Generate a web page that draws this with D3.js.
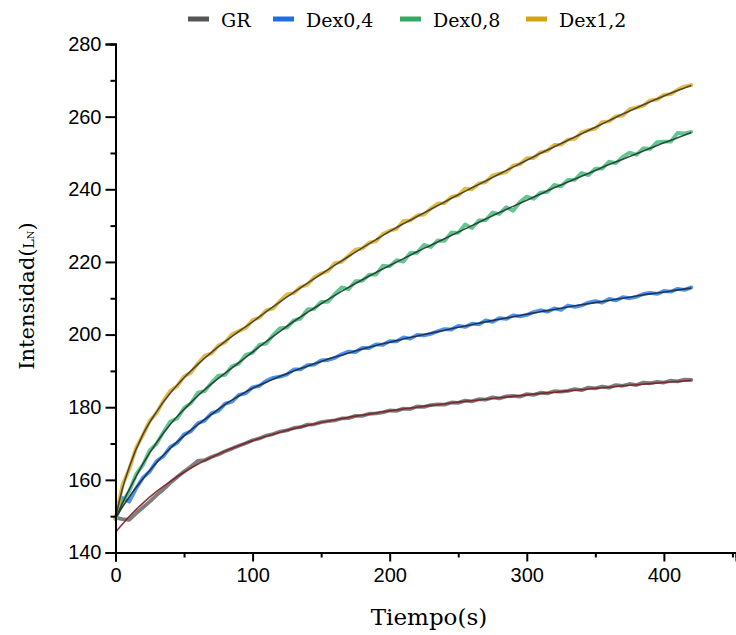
<!DOCTYPE html>
<html>
<head>
<meta charset="utf-8">
<script src="https://cdn.jsdelivr.net/npm/d3@7"></script>
<style>
  html, body { margin: 0; padding: 0; background: #ffffff; }
  svg { display: block; }
</style>
</head>
<body>
<svg id="chart" width="736" height="635"></svg>
<script>
// ---------- data ----------
const seriesNames = ["GR", "Dex0,4", "Dex0,8", "Dex1,2"];

const timeData = [0,5,10,15,20,25,30,35,40,45,50,55,60,65,70,75,80,85,90,95,100,
  105,110,115,120,125,130,135,140,145,150,155,160,165,170,175,180,185,190,195,200,
  205,210,215,220,225,230,235,240,245,250,255,260,265,270,275,280,285,290,295,300,
  305,310,315,320,325,330,335,340,345,350,355,360,365,370,375,380,385,390,395,400,
  405,410,415,420];

const grData = [149.6,149.2,149.0,150.8,152.4,154.0,155.8,157.4,159.2,160.8,162.3,163.7,165.2,165.4,166.3,167.0,167.9,168.6,169.4,170.1,170.9,
  171.4,172.2,172.6,173.3,173.6,174.3,174.5,175.2,175.3,175.9,176.2,176.4,176.9,177.0,177.6,177.6,178.2,178.3,178.6,179.1,
  179.0,179.6,179.5,180.2,180.1,180.6,180.8,180.7,181.3,181.2,181.8,181.6,182.2,182.1,182.7,182.4,183.0,183.1,182.9,183.6,
  183.4,184.0,183.8,184.4,184.3,184.5,185.0,184.7,185.4,185.2,185.7,185.4,186.1,185.9,186.4,186.1,186.8,186.6,187.0,186.8,
  187.3,187.1,187.6,187.5];

const dex04Data = [149.3,155.0,154.0,157.6,160.6,162.3,165.2,166.5,169.1,170.2,172.5,173.4,175.6,176.3,178.3,179.0,181.0,181.5,183.4,183.8,185.5,
  185.9,187.3,188.1,188.4,189.0,190.4,190.4,191.6,191.7,192.9,193.0,193.6,194.6,195.3,195.2,196.3,196.3,197.3,197.2,198.2,
  198.1,199.2,198.9,199.9,199.8,200.2,200.9,201.5,201.4,202.4,202.1,203.0,202.8,203.9,203.5,204.5,204.3,205.3,205.0,205.4,
  206.2,206.7,206.3,207.2,206.8,208.0,207.6,208.0,208.8,209.2,208.8,209.8,209.4,210.3,210.0,210.4,211.2,211.5,211.2,212.0,
  211.8,212.6,212.3,213.0];

const dex08Data = [149.3,153.9,156.8,161.5,164.1,168.2,169.9,173.2,176.1,176.9,179.8,181.1,184.0,184.4,186.7,188.7,188.9,191.3,192.0,194.4,195.0,
  197.2,197.5,199.9,201.8,201.9,203.9,204.4,206.9,207.1,209.0,209.0,211.2,213.0,212.5,214.7,214.8,216.5,216.5,219.0,218.8,
  220.5,220.1,222.5,222.5,224.7,224.1,225.9,225.8,228.1,228.0,230.3,229.3,231.4,231.5,233.6,233.2,235.1,234.1,236.5,238.0,
  237.4,239.1,239.3,241.2,240.8,242.6,242.6,244.5,243.9,245.7,245.7,247.6,247.2,248.9,250.1,249.5,251.3,251.1,253.0,253.1,
  253.1,255.5,255.4,255.8];

const dex12Data = [149.2,158.5,162.9,168.8,172.3,176.3,178.4,181.8,184.5,185.8,188.5,189.5,192.0,194.2,194.8,197.0,197.9,200.1,201.0,201.8,204.0,
  204.7,206.7,207.2,209.3,211.1,211.4,213.1,213.7,215.8,216.8,217.5,219.7,220.0,221.7,223.4,223.7,225.3,225.7,227.7,228.6,
  229.1,231.3,231.4,232.8,233.0,234.7,236.1,236.2,237.9,238.3,240.2,240.0,241.6,242.0,243.8,244.3,244.7,246.5,246.9,248.6,
  248.6,250.2,250.6,252.2,252.3,253.7,253.9,255.7,256.3,256.7,258.5,258.7,260.1,260.3,262.1,262.5,263.0,264.5,264.7,266.0,
  266.2,267.4,268.3,268.7];

// fitted curves
const timeFit = [0,5,10,20,30,40,50,60,70,80,90,100,110,120,130,140,150,160,170,180,190,200,
  210,220,230,240,250,260,270,280,290,300,310,320,330,340,350,360,370,380,390,400,410,420];

const grFit = [145.6,147.8,149.9,153.6,156.8,159.6,162.1,164.3,166.2,167.9,169.4,170.8,172.0,173.1,174.1,175.0,175.8,176.5,177.2,177.8,178.4,179.0,
  179.5,180.0,180.5,180.9,181.4,181.8,182.2,182.6,183.0,183.4,183.8,184.1,184.5,184.8,185.2,185.5,185.9,186.2,186.5,186.8,187.1,187.4];

const dex04Fit = [149.5,152.5,155.3,160.3,164.8,168.7,172.1,175.2,178.0,180.8,183.1,185.2,186.9,188.5,190.0,191.3,192.6,193.8,194.9,196.0,197.0,197.9,
  198.8,199.6,200.4,201.2,202.0,202.7,203.5,204.2,204.9,205.6,206.3,206.9,207.6,208.2,208.8,209.4,210.0,210.6,211.2,211.7,212.3,212.8];

const dex08Fit = [149.3,153.5,157.3,164.4,170.3,175.3,179.4,183.1,186.4,189.4,192.3,195.2,198.1,200.9,203.6,206.1,208.5,210.8,213.0,215.1,217.1,219.0,
  220.9,222.8,224.6,226.4,228.2,230.0,231.8,233.6,235.3,237.0,238.7,240.4,242.0,243.6,245.2,246.8,248.3,249.8,251.3,252.8,254.2,255.6];

const dex12Fit = [149.5,157.5,163.5,172.5,178.8,183.9,188.1,191.8,195.1,198.1,200.9,203.5,206.3,209.0,211.6,214.15,216.65,219.1,221.5,223.85,226.15,228.4,
  230.5,232.5,234.5,236.5,238.5,240.4,242.3,244.2,246.1,248.0,249.9,251.7,253.5,255.3,257.1,258.9,260.7,262.4,264.1,265.7,267.2,268.6];

const yMajorTicks = [140,160,180,200,220,240,260,280];
const yMinorTicks = [150,170,190,210,230,250,270];
const xMajorTicks = [0,100,200,300,400];
const xMinorTicks = [50,150,250,350,450];

const xLabel = "Tiempo(s)";
const yLabelMain = "Intensidad(";
const yLabelSub = "Ln";

// ---------- styles ----------
const dataColors = ["#707070", "#3a86ec", "#55c086", "#e0b232"];
const legendColors = ["#555555", "#1f6fe0", "#36a866", "#d4a314"];
const fitColors = ["#7a1f22", "#1d2a3a", "#1f3a2c", "#3d3a30"];

const svg = d3.select("#chart");
const x = d3.scaleLinear().domain([0, 452.6]).range([115.5, 736]);
const y = d3.scaleLinear().domain([140, 280]).range([552.5, 44]);

const dataSets = [grData, dex04Data, dex08Data, dex12Data];
const fitSets = [grFit, dex04Fit, dex08Fit, dex12Fit];

const lineData = d3.line().x((d, i) => x(timeData[i])).y(d => y(d)).curve(d3.curveLinear);
const lineFit = d3.line().x((d, i) => x(timeFit[i])).y(d => y(d)).curve(d3.curveMonotoneX);

const plot = svg.append("g");
dataSets.forEach((ds, k) => {
  plot.append("path").attr("d", lineData(ds))
    .attr("fill", "none").attr("stroke", dataColors[k])
    .attr("stroke-width", 3.8).attr("stroke-opacity", 0.9)
    .attr("stroke-linejoin", "round").attr("stroke-linecap", "round");
});
fitSets.forEach((fs, k) => {
  plot.append("path").attr("d", lineFit(fs))
    .attr("fill", "none").attr("stroke", fitColors[k])
    .attr("stroke-width", 1.6).attr("stroke-opacity", 0.9);
});

// ---------- axes ----------
const yAxis = d3.axisLeft(y).tickValues(yMajorTicks).tickSize(10).tickPadding(4);
const yAxisMinor = d3.axisLeft(y).tickValues(yMinorTicks).tickSize(5).tickFormat("");
const xAxis = d3.axisBottom(x).tickValues(xMajorTicks).tickSize(9).tickPadding(6);
const xAxisMinor = d3.axisBottom(x).tickValues(xMinorTicks).tickSize(5).tickFormat("");

function styleAxis(g) {
  g.select(".domain").attr("stroke", "#000").attr("stroke-width", 2);
  g.selectAll(".tick line").attr("stroke", "#000").attr("stroke-width", 2);
  g.selectAll(".tick text").attr("fill", "#000")
    .style("font-family", "'Liberation Sans', Arial, sans-serif").style("font-size", "20px");
}

svg.append("g").attr("transform", "translate(115.5,0)").call(yAxisMinor).call(styleAxis);
svg.append("g").attr("transform", "translate(115.5,0)").call(yAxis).call(styleAxis);
svg.append("g").attr("transform", "translate(0,552.5)").call(xAxisMinor).call(styleAxis);
svg.append("g").attr("transform", "translate(0,552.5)").call(xAxis).call(styleAxis);

// axis titles
svg.append("text")
  .attr("x", 429).attr("y", 625)
  .attr("text-anchor", "middle")
  .style("font-family", "'DejaVu Serif', 'Liberation Serif', serif")
  .style("font-size", "23px").attr("fill", "#000")
  .text(xLabel);

const yt = svg.append("text")
  .attr("transform", "translate(34,296) rotate(-90)")
  .attr("text-anchor", "middle")
  .style("font-family", "'DejaVu Serif', 'Liberation Serif', serif")
  .style("font-size", "21px").attr("fill", "#000");
yt.append("tspan").text(yLabelMain);
yt.append("tspan").style("font-size", "14px").style("font-variant", "small-caps").text(yLabelSub);
yt.append("tspan").text(")");

// ---------- legend ----------
const legendX = [188, 273, 400, 526];
const legend = svg.append("g");
seriesNames.forEach((name, k) => {
  legend.append("line")
    .attr("x1", legendX[k]).attr("x2", legendX[k] + 21)
    .attr("y1", 19).attr("y2", 19)
    .attr("stroke", legendColors[k]).attr("stroke-width", 5);
  legend.append("text")
    .attr("x", legendX[k] + 33).attr("y", 27)
    .style("font-family", "'DejaVu Serif', 'Liberation Serif', serif")
    .style("font-size", "19px").attr("fill", "#000")
    .text(name);
});
</script>
</body>
</html>
